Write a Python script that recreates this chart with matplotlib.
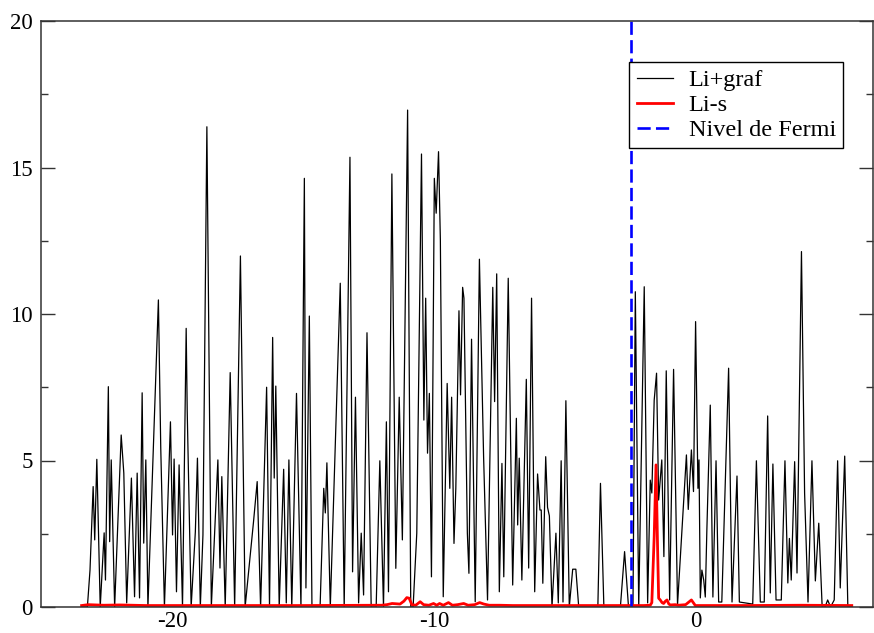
import numpy as np
import matplotlib.pyplot as plt
from matplotlib.ticker import MultipleLocator, FuncFormatter

# densidad de estados: energia (eV), DOS
li_graf = [
    (-23.45, 0), (-23.23, 0), (-23.13, 1.26), (-23.01, 4.11), (-22.95, 2.29), (-22.87, 5.04),
    (-22.74, 0), (-22.59, 2.53), (-22.54, 0.92), (-22.43, 7.52), (-22.38, 2.23), (-22.32, 5.02),
    (-22.19, 0), (-21.94, 5.87), (-21.84, 4.57), (-21.73, 0.14), (-21.55, 4.40), (-21.43, 0.35),
    (-21.33, 4.57), (-21.24, 0.31), (-21.14, 7.31), (-21.08, 2.18), (-21.00, 5.02), (-20.92, 0),
    (-20.52, 10.48), (-20.43, 5.43), (-20.29, 0), (-20.06, 6.32), (-19.98, 2.46), (-19.92, 5.05),
    (-19.83, 0.52), (-19.73, 4.85), (-19.60, 0), (-19.46, 9.51), (-19.42, 6.67), (-19.27, 0),
    (-19.11, 2.57), (-19.03, 5.08), (-18.92, 0), (-18.82, 2.46), (-18.67, 16.39), (-18.50, 0),
    (-18.25, 5.02), (-18.17, 1.33), (-18.10, 4.45), (-17.97, 0), (-17.78, 8.00), (-17.61, 0),
    (-17.39, 11.98), (-17.21, 0), (-16.89, 2.91), (-16.75, 4.28), (-16.62, 0), (-16.39, 7.50),
    (-16.28, 0), (-16.16, 9.20), (-16.10, 4.40), (-16.04, 7.54), (-15.91, 0), (-15.74, 4.70),
    (-15.64, 0.14), (-15.54, 5.02), (-15.43, 0), (-15.25, 7.29), (-15.08, 0), (-14.95, 14.63),
    (-14.89, 0.65), (-14.76, 9.93), (-14.66, 0), (-14.35, 0), (-14.21, 4.05), (-14.15, 3.21),
    (-14.09, 4.92), (-13.96, 0), (-13.58, 11.05), (-13.43, 0), (-13.21, 15.35), (-13.11, 1.20),
    (-13.00, 7.16), (-12.88, 0.14), (-12.78, 2.52), (-12.69, 0.41), (-12.56, 9.36), (-12.40, 0),
    (-12.21, 0), (-12.07, 4.99), (-11.93, 0), (-11.82, 6.32), (-11.74, 0.52), (-11.61, 14.78),
    (-11.46, 1.32), (-11.33, 7.16), (-11.21, 2.29), (-11.01, 16.96), (-10.89, 0), (-10.80, 0),
    (-10.66, 2.52), (-10.48, 15.46), (-10.39, 6.38), (-10.32, 10.54), (-10.25, 5.25),
    (-10.18, 7.29), (-10.10, 1.03), (-9.99, 14.63), (-9.92, 13.44), (-9.83, 15.54), (-9.76, 12.53),
    (-9.65, 0.35), (-9.50, 7.63), (-9.40, 4.05), (-9.33, 7.16), (-9.24, 2.17), (-9.17, 4.06),
    (-9.05, 10.11), (-8.99, 7.24), (-8.91, 10.91), (-8.86, 10.54), (-8.73, 2.52), (-8.67, 1.15),
    (-8.57, 9.14), (-8.43, 0.18), (-8.27, 11.87), (-8.11, 5.13), (-7.96, 0.24), (-7.76, 10.91),
    (-7.69, 7.01), (-7.61, 11.37), (-7.51, 0.52), (-7.41, 4.90), (-7.34, 1.03), (-7.17, 11.22),
    (-7.00, 0.75), (-6.86, 6.44), (-6.81, 2.80), (-6.75, 5.08), (-6.65, 0.92), (-6.48, 7.77),
    (-6.39, 1.33), (-6.28, 10.54), (-6.16, 0.52), (-6.05, 4.54), (-5.96, 3.31), (-5.91, 3.31),
    (-5.85, 0.81), (-5.74, 5.13), (-5.67, 3.40), (-5.60, 3.11), (-5.50, 0), (-5.35, 2.52),
    (-5.26, 0.14), (-5.15, 4.99), (-5.08, 0.17), (-4.97, 7.04), (-4.84, 0), (-4.71, 1.29),
    (-4.59, 1.29), (-4.48, 0), (-3.75, 0), (-3.65, 4.22), (-3.52, 0), (-2.89, 0), (-2.73, 1.89),
    (-2.58, 0), (-2.41, 0), (-2.32, 10.76), (-2.19, 0), (-1.98, 10.93), (-1.85, 0.14),
    (-1.75, 4.33), (-1.69, 3.89), (-1.60, 7.06), (-1.51, 7.98), (-1.43, 3.65), (-1.31, 5.02),
    (-1.23, 1.72), (-1.14, 8.06), (-1.01, 0.24), (-0.86, 8.11), (-0.71, 0.07), (-0.37, 5.19),
    (-0.30, 3.33), (-0.18, 5.36), (-0.10, 3.94), (-0.02, 9.74), (0.07, 4.05), (0.11, 5.02),
    (0.16, 0.31), (0.22, 1.26), (0.29, 0.92), (0.35, 0.34), (0.41, 2.63), (0.54, 6.89),
    (0.64, 0.34), (0.76, 4.99), (0.86, 0.17), (0.98, 0.17), (1.24, 8.15), (1.37, 0.17),
    (1.56, 4.47), (1.65, 0.17), (2.16, 0.10), (2.30, 4.99), (2.45, 0.17), (2.60, 0.17),
    (2.73, 6.52), (2.83, 0.48), (2.93, 4.88), (3.05, 0.24), (3.25, 0.24), (3.39, 4.99),
    (3.50, 0.82), (3.56, 2.34), (3.63, 0.92), (3.76, 4.96), (3.85, 1.16), (4.02, 12.13),
    (4.14, 3.88), (4.27, 0.17), (4.42, 4.99), (4.55, 0.89), (4.68, 2.86), (4.81, 0),
    (4.92, 0), (5.02, 0.24), (5.13, 0), (5.27, 0.24), (5.40, 4.99), (5.50, 0.65), (5.67, 5.15),
    (5.79, 0), (5.94, 0),
]

li_s = [
    (-23.45, 0.05), (-23.2, 0.08), (-22.6, 0.06), (-22.0, 0.07), (-21.0, 0.05), (-18.0, 0.05),
    (-15.0, 0.05), (-12.0, 0.06), (-11.8, 0.08), (-11.6, 0.12), (-11.3, 0.10), (-11.15, 0.20),
    (-11.04, 0.32), (-10.95, 0.30), (-10.85, 0.08), (-10.7, 0.06), (-10.53, 0.18), (-10.4, 0.08),
    (-10.2, 0.06), (-10.02, 0.12), (-9.9, 0.06), (-9.79, 0.12), (-9.65, 0.06), (-9.45, 0.15),
    (-9.3, 0.06), (-9.1, 0.08), (-8.87, 0.12), (-8.7, 0.06), (-8.45, 0.08), (-8.26, 0.15),
    (-8.1, 0.10), (-7.9, 0.06), (-7.5, 0.06), (-7.0, 0.05), (-5.0, 0.05), (-3.0, 0.05),
    (-2.0, 0.05), (-1.75, 0.06), (-1.69, 0.15), (-1.60, 2.40), (-1.53, 4.85), (-1.47, 2.00),
    (-1.43, 0.30), (-1.37, 0.24), (-1.30, 0.15), (-1.24, 0.12), (-1.17, 0.20), (-1.11, 0.24),
    (-1.04, 0.10), (-0.98, 0.07), (-0.80, 0.08), (-0.67, 0.06), (-0.40, 0.08), (-0.18, 0.24),
    (-0.03, 0.05), (0.5, 0.05), (2.0, 0.05), (4.0, 0.06), (5.94, 0.05),
]

e_fermi = -2.5

e_tot, dos_tot = np.array(li_graf).T
e_s, dos_s = np.array(li_s).T

plt.rcParams['font.family'] = ['Liberation Serif', 'DejaVu Serif']

fig = plt.figure(figsize=(8.74, 6.33), dpi=100)
ax = fig.add_axes([41 / 874, 26 / 633, 832 / 874, 586 / 633])

ax.plot(e_tot, dos_tot, color='black', lw=0.9, label='Li+graf')
ax.plot(e_s, dos_s, color='red', lw=2.0, label='Li-s')
ax.axvline(e_fermi, color='blue', lw=1.9, ls=(0, (5, 2)), label='Nivel de Fermi')

ax.set_xlim(-25, 6.75)
ax.set_ylim(0, 20)
ax.xaxis.set_major_locator(MultipleLocator(10))
ax.xaxis.set_minor_locator(MultipleLocator(5))
ax.yaxis.set_major_locator(MultipleLocator(5))
ax.yaxis.set_minor_locator(MultipleLocator(2.5))
ax.xaxis.set_major_formatter(FuncFormatter(lambda v, p: '%d' % v))
ax.yaxis.set_major_formatter(FuncFormatter(lambda v, p: '%d' % v))
ax.tick_params(which='both', direction='in', right=True,
               labelsize=16.5, color='#333333', width=1.0)
ax.tick_params(axis='x', which='both', length=0, pad=3)
ax.tick_params(axis='y', which='major', length=10, pad=6)
ax.tick_params(axis='y', which='minor', length=5)
for s in ax.spines.values():
    s.set_color('#333333')
    s.set_linewidth(1.1)

leg = ax.legend(loc='upper left', bbox_to_anchor=(0.707, 0.930), borderaxespad=0,
                fancybox=False, framealpha=1, edgecolor='black', fontsize=17.5,
                handlelength=1.5, handletextpad=0.65, labelspacing=0.12, borderpad=0.3)
leg.get_frame().set_linewidth(1.0)

fig.savefig('out.png', dpi=100)
